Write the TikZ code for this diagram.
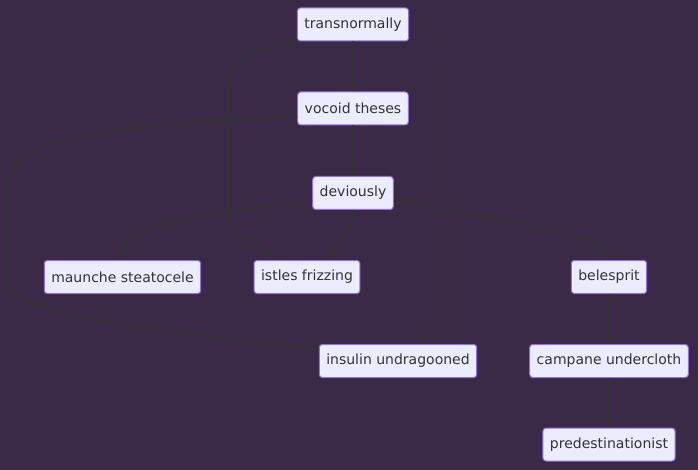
\documentclass[tikz,border=0pt]{standalone}
\usepackage{fontspec}
\setmainfont{DejaVu Sans}
\usetikzlibrary{arrows.meta}
\definecolor{bgpurple}{HTML}{3B2A47}
\definecolor{boxfill}{HTML}{ECECFF}
\definecolor{boxline}{HTML}{9370DB}
\definecolor{edgegrey}{HTML}{333333}
\begin{document}
\begin{tikzpicture}[x=1pt,y=-1pt,
  box/.style={draw=boxline,fill=boxfill,line width=1pt,rounded corners=3pt,minimum height=33pt,inner xsep=7pt,font=\fontsize{14}{16}\selectfont,text=edgegrey},
  link/.style={draw=edgegrey,line width=2pt,-{Triangle[length=7pt,width=7pt]}},
  faint/.style={link,line width=0.8pt,dash pattern=on 2pt off 3pt}]
\fill[bgpurple] (0,0) rectangle (698,470);
\useasboundingbox (0,0) rectangle (698,470);
\node[box] (trans) at (353,24.5) {transnormally};
\node[box] (vocoid) at (353,108.5) {vocoid theses};
\node[box] (dev) at (353,193) {deviously};
\node[box] (maunche) at (122.5,277) {maunche steatocele};
\node[box] (istles) at (307,277) {istles frizzing};
\node[box] (beles) at (609,277) {belesprit};
\node[box] (insulin) at (398,361) {insulin undragooned};
\node[box] (campane) at (609,361) {campane undercloth};
\node[box] (predest) at (609,444.5) {predestinationist};
\draw[link] (trans) -- (vocoid);
\draw[link] (vocoid) -- (dev);
\draw[link] (dev.190) .. controls (200,215) and (122,225) .. (maunche.north);
\draw[link] (dev.south) .. controls (353,235) and (335,238) .. ([xshift=25pt]istles.north);
\draw[link] (trans.south west) .. controls (235,52) and (228,65) .. (228,90) -- (228,212) .. controls (228,240) and (262,240) .. ([xshift=-37pt]istles.north);
\draw[link] (vocoid.188) .. controls (100,125) and (8,140) .. (8,185) -- (8,280) .. controls (8,318) and (150,328) .. (insulin.172);
\draw[link] (dev.350) .. controls (470,215) and (600,232) .. (beles.north);
\draw[faint] (trans.east) .. controls (438,25) and (442,40) .. (442,70) -- (442,318) .. controls (442,335) and (422,330) .. ([xshift=24pt]insulin.north);
\draw[faint] (dev.355) .. controls (452,200) and (462,210) .. (462,235) -- (462,318) .. controls (462,335) and (434,330) .. ([xshift=34pt]insulin.north);
\draw[link] (beles) -- (campane);
\draw[link] (campane) -- (predest);
\end{tikzpicture}
\end{document}
